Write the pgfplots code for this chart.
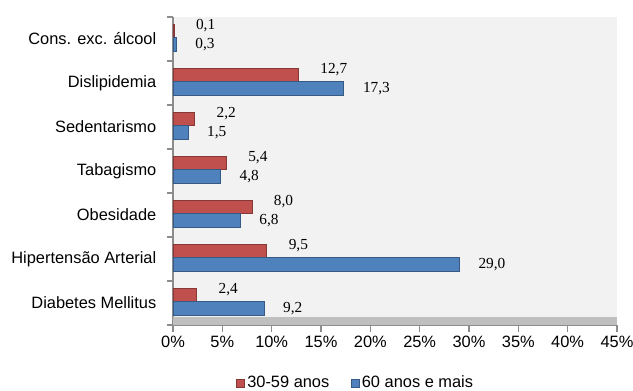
\documentclass[border=0pt]{standalone}
\usepackage{pgfplots}
\pgfplotsset{compat=1.18}
\usepackage{fontspec}
\setmainfont{Liberation Sans}
\newfontfamily\seriffont{Liberation Serif}
\definecolor{redbar}{HTML}{C0504D}
\definecolor{bluebar}{HTML}{4F81BD}
\definecolor{wall}{HTML}{F2F2F2}
\definecolor{floorc}{HTML}{BFBFBF}
\definecolor{axgray}{HTML}{8C8C8C}
\begin{document}
\begin{tikzpicture}
\begin{axis}[
  scale only axis, width=333pt, height=231pt,
  xmin=0, xmax=45, ymin=-0.5, ymax=6.5,
  xtick={0,5,...,45},
  xticklabels={0\%,5\%,10\%,15\%,20\%,25\%,30\%,35\%,40\%,45\%},
  ytick={0,...,6},
  yticklabels={Diabetes Mellitus,Hipertensão Arterial,Obesidade,Tabagismo,Sedentarismo,Dislipidemia,Cons. exc. álcool},
  minor ytick={-0.5,0.5,...,6.5},
  major y tick style={draw=none},
  minor tick length=4.5pt, major tick length=5pt,
  tick align=outside,
  axis x line*=bottom, axis y line*=left,
  axis line style={axgray, line width=0.8pt},
  every tick/.style={axgray, line width=0.8pt},
  tick label style={font=\fontsize{12.3}{14}\selectfont, text=black},
  yticklabel style={xshift=-4pt},
  axis background/.style={fill=wall},
  legend style={at={(0.412,-0.188)}, anchor=center, draw=none, fill=none,
    legend columns=2, font=\fontsize{12.3}{14}\selectfont,
    /tikz/every even column/.append style={column sep=14pt}},
  legend image code/.code={\fill[#1] (0pt,-3pt) rectangle (6pt,3pt);},
  clip=false,
]
\fill[floorc] (rel axis cs:0,0) rectangle ([yshift=6pt]rel axis cs:1,0);
\coordinate (SW) at (rel axis cs:0,0);
\addplot[xbar, bar width=10pt, bar shift=6pt, fill=redbar, draw=redbar!70!black,
  nodes near coords,
  nodes near coords style={anchor=west, xshift=13pt, yshift=10pt,
     font=\seriffont\fontsize{11.5}{13}\selectfont,
     /pgf/number format/.cd, fixed, fixed zerofill, precision=1, use comma, assume math mode=true}]
  coordinates {(2.4,0) (9.5,1) (8.0,2) (5.4,3) (2.2,4) (12.7,5) (0.1,6)};
\addlegendentry{30-59 anos}
\addplot[xbar, bar width=10pt, bar shift=-4pt, fill=bluebar, draw=bluebar!70!black,
  nodes near coords,
  nodes near coords style={anchor=west, xshift=11pt, yshift=-4.5pt,
     font=\seriffont\fontsize{11.5}{13}\selectfont,
     /pgf/number format/.cd, fixed, fixed zerofill, precision=1, use comma, assume math mode=true}]
  coordinates {(9.2,0) (29.0,1) (6.8,2) (4.8,3) (1.5,4) (17.3,5) (0.3,6)};
\addlegendentry{60 anos e mais}
\end{axis}
\pgfresetboundingbox
\path[use as bounding box] ([shift={(-129.75pt,-48.75pt)}]SW) rectangle ++(474.75pt,292.5pt);
\end{tikzpicture}
\end{document}
